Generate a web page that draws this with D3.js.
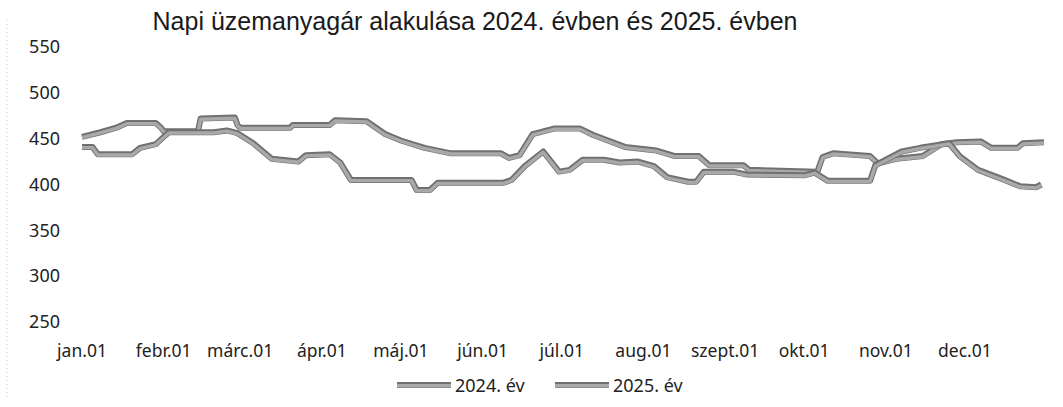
<!DOCTYPE html>
<html>
<head>
<meta charset="utf-8">
<script src="https://cdn.jsdelivr.net/npm/d3@7"></script>
<style>
  body { margin: 0; background: #fff; }
</style>
</head>
<body>
<div class="chart"></div>
<script>
const dates2024 = ['01-01','01-08','01-14','01-18','01-29','01-31','02-01','02-14','02-15','02-28','02-29','03-01','03-20','03-21','04-04','04-06','04-18','04-25','05-01','05-10','05-20','06-08','06-11','06-15','06-20','06-28','07-08','07-13','07-25','08-06','08-13','08-22','08-26','09-08','09-10','10-06','10-08','10-12','10-26','10-29','11-05','11-15','11-22','11-28','12-07','12-11','12-21','12-23','12-31'];
const values2024 = [452,457,462,467,467,462,458,458,472,473,465,462,462,465,465,470,469,455,448,440,434,434,429,432,455,461,461,454,441,437,431,431,421,421,416,414,430,434,431,423,428,431,444,446,447,440,440,445,446];

const dates2025 = ['01-01','01-05','01-07','01-20','01-23','01-29','02-01','02-03','02-20','02-25','03-01','03-07','03-14','03-24','03-27','04-05','04-09','04-13','05-06','05-08','05-13','05-16','06-10','06-13','06-18','06-25','07-01','07-05','07-10','07-18','07-24','07-31','08-06','08-11','08-19','08-22','08-25','09-05','09-10','10-02','10-06','10-11','10-27','10-29','11-08','11-15','11-26','11-30','12-07','12-17','12-23','12-29','12-31'];
const values2025 = [441,441,433,433,440,444,452,457,457,459,456,445,428,425,432,433,424,405,405,394,394,402,402,405,420,436,414,416,427,427,424,425,420,408,403,403,414,414,411,410,413,404,404,421,436,440,445,431,416,405,398,397,400];

const monthLabels = ['jan.01','febr.01','márc.01','ápr.01','máj.01','jún.01','júl.01','aug.01','szept.01','okt.01','nov.01','dec.01'];
const yTicks = [250, 300, 350, 400, 450, 500, 550];
const seriesNames = ['2024. év', '2025. év'];
const chartTitle = 'Napi üzemanyagár alakulása 2024. évben és 2025. évben';

const width = 1063;
const height = 407;

const svg = d3.select('.chart')
  .append('svg')
    .attr('width', width)
    .attr('height', height)
    .style('font-family', '"Noto Sans", sans-serif');

// day of year helper
function dayOf(year, md) {
  const d = new Date(year, +md.slice(0, 2) - 1, +md.slice(3, 5));
  return d3.timeDay.count(new Date(year, 0, 1), d);
}

const x = d3.scaleLinear().domain([0, 365]).range([82, 1044]);
const y = d3.scaleLinear().domain([250, 550]).range([322, 47]);

// faint dotted edge on the left of the scan
svg.append('line')
  .attr('x1', 7).attr('x2', 7)
  .attr('y1', 20).attr('y2', 400)
  .attr('stroke', '#c8c8c8')
  .attr('stroke-width', 1)
  .attr('stroke-dasharray', '1,3');

// title
svg.append('text')
  .attr('x', 475)
  .attr('y', 30)
  .attr('text-anchor', 'middle')
  .style('font-family', '"Liberation Sans", Arial, sans-serif')
  .style('font-size', '25px')
  .attr('fill', '#1a1a1a')
  .text(chartTitle);

// y axis labels
svg.append('g')
  .selectAll('text')
  .data(yTicks)
  .join('text')
    .attr('x', 60)
    .attr('y', d => y(d))
    .attr('dy', '0.35em')
    .attr('text-anchor', 'end')
    .style('font-size', '18px')
    .attr('fill', '#222')
    .text(d => d);

// x axis labels at the first day of each month
const monthStarts = d3.timeMonth.range(new Date(2024, 0, 1), new Date(2024, 11, 2));
svg.append('g')
  .selectAll('text')
  .data(monthStarts)
  .join('text')
    .attr('x', d => x(d3.timeDay.count(new Date(2024, 0, 1), d)))
    .attr('y', 357)
    .attr('text-anchor', 'middle')
    .style('font-size', '17.5px')
    .attr('fill', '#222')
    .text((d, i) => monthLabels[i]);

const series = [
  { name: seriesNames[0], points: dates2024.map((md, i) => ({ day: dayOf(2024, md), value: values2024[i] })) },
  { name: seriesNames[1], points: dates2025.map((md, i) => ({ day: dayOf(2025, md), value: values2025[i] })) }
];

const line = d3.line()
  .x(d => x(d.day))
  .y(d => y(d.value));

// scanned-looking grey band: dark edge + lighter centre
function drawBand(g, pathD) {
  g.append('path')
    .attr('d', pathD)
    .attr('fill', 'none')
    .attr('stroke', '#707070')
    .attr('stroke-width', 6)
    .attr('stroke-linejoin', 'round');
  g.append('path')
    .attr('d', pathD)
    .attr('transform', 'translate(0,0.7)')
    .attr('fill', 'none')
    .attr('stroke', '#a9a9a9')
    .attr('stroke-width', 3.4)
    .attr('stroke-linejoin', 'round');
}

series.forEach(s => {
  drawBand(svg.append('g').attr('class', 'series'), line(s.points));
});

// legend
const legendItems = [
  { name: seriesNames[0], x0: 397 },
  { name: seriesNames[1], x0: 555 }
];
legendItems.forEach(item => {
  const g = svg.append('g').attr('class', 'legend');
  drawBand(g, d3.line()([[item.x0, 385], [item.x0 + 54, 385]]));
  g.append('text')
    .attr('x', item.x0 + 58)
    .attr('y', 392)
    .style('font-size', '18px')
    .attr('fill', '#222')
    .text(item.name);
});
</script>
</body>
</html>
